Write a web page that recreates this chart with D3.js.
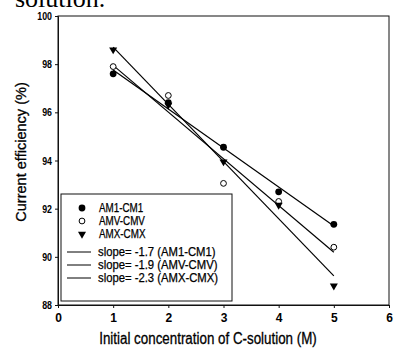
<!DOCTYPE html>
<html>
<head>
<meta charset="utf-8">
<script src="https://cdn.jsdelivr.net/npm/d3@7"></script>
<style>
  html, body { margin: 0; padding: 0; background: #fff; }
  svg { display: block; }
</style>
</head>
<body>
<svg id="chart" width="395" height="353"></svg>
<script>
// data
const conc = [1, 2, 3, 4, 5];
const am1 = [97.6, 96.4, 94.55, 92.7, 91.35];
const amv = [97.9, 96.7, 93.05, 92.3, 90.4];
const amx = [98.6, 96.3, 93.95, 92.15, 88.8];
const seriesNames = ["AM1-CM1", "AMV-CMV", "AMX-CMX"];
const slopeLabels = ["slope= -1.7 (AM1-CM1)", "slope= -1.9 (AMV-CMV)", "slope= -2.3 (AMX-CMX)"];
const xTicks = [0, 1, 2, 3, 4, 5, 6];
const yTicks = [88, 90, 92, 94, 96, 98, 100];

const svg = d3.select("#chart");
const margin = { left: 58, right: 6, top: 16, bottom: 48 };
const W = 395, H = 353;

const x = d3.scaleLinear().domain([0, 6]).range([margin.left, W - margin.right]);
const y = d3.scaleLinear().domain([88, 100]).range([H - margin.bottom, margin.top]);

// squeeze text horizontally, the scan uses a narrow face
function condense(sel, k) {
  sel.each(function () {
    const w = this.getComputedTextLength();
    d3.select(this).attr("textLength", w * k).attr("lengthAdjust", "spacingAndGlyphs");
  });
}
// scanned print looks heavy, thicken the glyphs a bit
function ink(sel, w) {
  sel.attr("stroke", "#000").attr("stroke-width", w).attr("fill", "#000");
}

// cut-off caption line from the page above
svg.append("text")
  .attr("x", 15).attr("y", 7)
  .attr("font-family", "Liberation Serif, serif")
  .attr("font-size", 26)
  .text("solution.");

// frame
svg.append("rect")
  .attr("x", x(0)).attr("y", y(100))
  .attr("width", x(6) - x(0)).attr("height", y(88) - y(100))
  .attr("fill", "none").attr("stroke", "#111").attr("stroke-width", 1);

// axes
const xAxis = svg.append("g")
  .attr("transform", `translate(0,${y(88)})`)
  .call(d3.axisBottom(x).tickValues(xTicks).tickSize(3).tickFormat(d3.format("d")));
const yAxis = svg.append("g")
  .attr("transform", `translate(${x(0)},0)`)
  .call(d3.axisLeft(y).tickValues(yTicks).tickSize(3).tickFormat(d3.format("d")));

[xAxis, yAxis].forEach((a) => {
  a.select(".domain").attr("stroke", "#111");
  a.selectAll(".tick line").attr("stroke", "#111");
  a.selectAll("text")
    .attr("fill", "#000")
    .attr("font-family", "Liberation Sans, Arial, sans-serif")
    .attr("font-weight", "bold");
});
xAxis.selectAll("text").attr("font-size", 12).attr("dy", "0.95em");
yAxis.selectAll("text").attr("font-size", 11).attr("x", -6).call(condense, 0.8);

// axis titles
svg.append("text")
  .attr("x", 208).attr("y", 344)
  .attr("text-anchor", "middle")
  .attr("font-family", "Liberation Sans, Arial, sans-serif")
  .attr("font-size", 16)
  .text("Initial concentration of C-solution (M)")
  .call(condense, 0.835)
  .call(ink, 0.3);

svg.append("text")
  .attr("transform", `translate(26,${152}) rotate(-90)`)
  .attr("text-anchor", "middle")
  .attr("font-family", "Liberation Sans, Arial, sans-serif")
  .attr("font-size", 15)
  .text("Current efficiency (%)")
  .call(condense, 0.97)
  .call(ink, 0.3);

// least-squares fits
const allSeries = [am1, amv, amx];
function fit(ys) {
  const mx = d3.mean(conc), my = d3.mean(ys);
  const b = d3.sum(conc, (v, i) => (v - mx) * (ys[i] - my)) / d3.sum(conc, (v) => (v - mx) * (v - mx));
  return (v) => my + b * (v - mx);
}
allSeries.forEach((ys) => {
  const f = fit(ys);
  const x0 = d3.min(conc), x1 = d3.max(conc);
  svg.append("line")
    .attr("x1", x(x0)).attr("y1", y(f(x0)))
    .attr("x2", x(x1)).attr("y2", y(f(x1)))
    .attr("stroke", "#000").attr("stroke-width", 1.2);
});

// markers
const tri = d3.symbol().type(d3.symbolTriangle).size(28);
function marker(g, k) {
  if (k === 0) g.append("circle").attr("r", 3.4).attr("fill", "#000");
  else if (k === 1) g.append("circle").attr("r", 2.9).attr("fill", "#fff").attr("stroke", "#000").attr("stroke-width", 1);
  else g.append("path").attr("d", tri).attr("transform", "rotate(180)").attr("fill", "#000");
}
allSeries.forEach((ys, k) => {
  conc.forEach((c, i) => {
    const g = svg.append("g").attr("transform", `translate(${x(c)},${y(ys[i])})`);
    marker(g, k);
  });
});

// legend
const leg = svg.append("g");
leg.append("rect")
  .attr("x", 61).attr("y", 194).attr("width", 171).attr("height", 107)
  .attr("fill", "#fff").attr("stroke", "#111").attr("stroke-width", 1);
const symRows = [208, 221, 234];
const lineRows = [252, 265, 278];
seriesNames.forEach((name, k) => {
  const g = leg.append("g").attr("transform", `translate(82,${symRows[k]})`);
  marker(g, k);
  leg.append("text")
    .attr("x", 99).attr("y", symRows[k]).attr("dy", "0.35em")
    .attr("font-family", "Liberation Sans, Arial, sans-serif")
    .attr("font-size", 12)
    .text(name)
    .call(condense, 0.82)
    .call(ink, 0.25);
});
slopeLabels.forEach((lab, k) => {
  leg.append("line")
    .attr("x1", 67).attr("x2", 91)
    .attr("y1", lineRows[k]).attr("y2", lineRows[k])
    .attr("stroke", "#000").attr("stroke-width", 1);
  leg.append("text")
    .attr("x", 98).attr("y", lineRows[k]).attr("dy", "0.35em")
    .attr("font-family", "Liberation Sans, Arial, sans-serif")
    .attr("font-size", 12)
    .text(lab)
    .call(condense, 0.94)
    .call(ink, 0.25);
});
</script>
</body>
</html>
